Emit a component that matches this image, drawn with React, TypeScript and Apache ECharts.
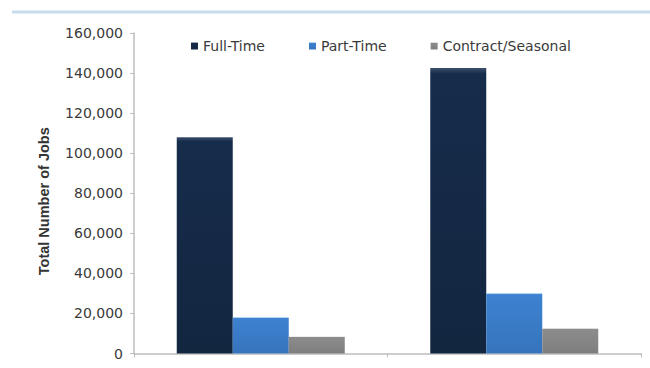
import React, { useEffect, useRef } from "react";
import * as echarts from "echarts";

const years = ["2009", "2019"];
const fullTime = [108000, 142500];
const partTime = [18000, 30000];
const contractSeasonal = [8400, 12500];
const yTicks = { min: 0, max: 160000, interval: 20000 };

const FONT = "'DejaVu Sans', Verdana, sans-serif";
const TITLE_FONT = "'Liberation Sans', Arial, sans-serif";

function barFill(edge: string, mid: string, top: string) {
  return {
    type: "linear",
    x: 0,
    y: 0,
    x2: 0,
    y2: 1,
    colorStops: [
      { offset: 0, color: top },
      { offset: 0.02, color: mid },
      { offset: 1, color: edge },
    ],
  };
}

export default function App() {
  const ref = useRef<HTMLDivElement>(null);

  useEffect(() => {
    if (!ref.current) return;
    const chart = echarts.init(ref.current, null, { renderer: "svg" });
    chart.setOption({
      animation: false,
      backgroundColor: "#ffffff",
      textStyle: { fontFamily: FONT },
      graphic: [
        {
          type: "line",
          shape: { x1: 12, y1: 12, x2: 650, y2: 12 },
          style: { stroke: "#c8dcef", lineWidth: 3 },
        },
      ],
      legend: {
        left: 186,
        top: 34,
        itemWidth: 7,
        itemHeight: 7,
        itemGap: 44,
        icon: "rect",
        textStyle: { fontFamily: FONT, fontSize: 14, color: "#3a3a3a" },
        data: ["Full-Time", "Part-Time", "Contract/Seasonal"],
      },
      grid: {
        left: 134,
        width: 507,
        top: 33,
        height: 320.5,
        containLabel: false,
        outerBoundsMode: "none",
      },
      xAxis: {
        type: "category",
        data: years,
        axisLine: { lineStyle: { color: "#bdbdbd", width: 1.5 } },
        axisTick: { show: true, length: 4, lineStyle: { color: "#bdbdbd" } },
        axisLabel: { margin: 12, fontSize: 14, color: "#3a3a3a", fontFamily: FONT },
      },
      yAxis: {
        type: "value",
        min: yTicks.min,
        max: yTicks.max,
        interval: yTicks.interval,
        name: "Total Number of Jobs",
        nameLocation: "middle",
        nameGap: 83,
        nameTextStyle: {
          fontFamily: TITLE_FONT,
          fontSize: 14.5,
          fontWeight: "bold",
          color: "#333333",
          padding: [0, 16, 0, 0],
        },
        axisLine: { show: true, lineStyle: { color: "#bdbdbd", width: 1.5 } },
        axisTick: { show: true, length: 4, lineStyle: { color: "#bdbdbd" } },
        splitLine: { show: false },
        axisLabel: {
          margin: 11,
          fontSize: 14,
          color: "#3a3a3a",
          fontFamily: FONT,
          formatter: (v: number) => v.toLocaleString("en-US"),
        },
      },
      series: [
        {
          name: "Full-Time",
          type: "bar",
          data: fullTime,
          barWidth: 56,
          barGap: "0%",
          itemStyle: { color: barFill("#132640", "#162c4b", "#3c506c") },
        },
        {
          name: "Part-Time",
          type: "bar",
          data: partTime,
          barWidth: 56,
          barGap: "0%",
          itemStyle: { color: barFill("#3674bd", "#3d82d0", "#6aaeea") },
        },
        {
          name: "Contract/Seasonal",
          type: "bar",
          data: contractSeasonal,
          barWidth: 56,
          barGap: "0%",
          itemStyle: { color: barFill("#7e7e7e", "#8c8c8c", "#bcbcbc") },
        },
      ],
      color: ["#162c4b", "#3d82d0", "#8c8c8c"],
    });
    return () => chart.dispose();
  }, []);

  return (
    <div
      ref={ref}
      style={{ position: "absolute", left: 0, top: 0, width: 650, height: 368 }}
    />
  );
}
